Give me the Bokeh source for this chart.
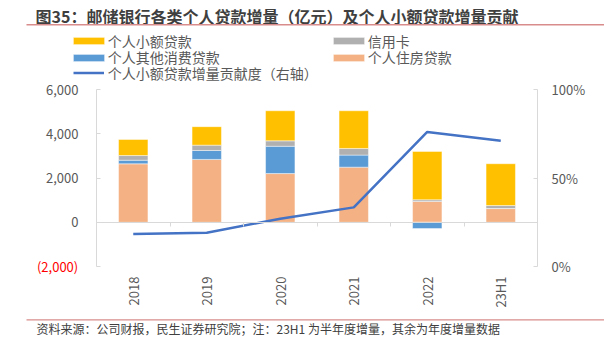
from math import pi
from bokeh.plotting import figure
from bokeh.models import (Range1d, LinearAxis, FixedTicker, Label, Legend, LegendItem,
                          BoxAnnotation, Grid)
from bokeh.embed import file_html
from bokeh.resources import INLINE

# ---------------- data ----------------
categories = ["2018", "2019", "2020", "2021", "2022", "23H1"]
housing = [2640, 2840, 2200, 2490, 940, 620]          # 个人住房贷款
other_consumer = [165, 405, 1235, 545, -285, 0]       # 个人其他消费贷款
credit_card = [210, 240, 245, 300, 75, 135]           # 信用卡
small_loan = [725, 835, 1360, 1705, 2185, 1890]       # 个人小额贷款
small_share = [0.184, 0.191, 0.270, 0.334, 0.760, 0.711]  # 贡献度（右轴）
left_ticks = [-2000, 0, 2000, 4000, 6000]
left_tick_labels = ["(2,000)", "0", "2,000", "4,000", "6,000"]
right_ticks = [0, 0.5, 1.0]
right_tick_labels = ["0%", "50%", "100%"]

title_text = "图35：邮储银行各类个人贷款增量（亿元）及个人小额贷款增量贡献"
source_text = "资料来源：公司财报，民生证券研究院；注：23H1 为半年度增量，其余为年度增量数据"

FONT = "Noto Sans CJK SC"
GRAY_TXT = "#595959"
AXIS_C = "#d9d9d9"

# plot-area geometry on the canvas (px)
W, H = 604, 351
PX0, PX1, PY0, PY1 = 96, 537, 89, 266     # left, right, top, bottom of the axes box

n = len(categories)
xc = [i + 0.5 for i in range(n)]          # category slot centres
bounds = list(range(n + 1))               # category slot boundaries

# ranges chosen so the axes box sits at PX0..PX1 / PY0..PY1 of a full-canvas frame
ux = (PX1 - PX0) / n
x_lo, x_hi = -PX0 / ux, n + (W - PX1) / ux
ymin, ymax = left_ticks[0], left_ticks[-1]
uy = (PY1 - PY0) / (ymax - ymin)
y_lo, y_hi = ymin - (H - PY1) / uy, ymax + PY0 / uy
pmin, pmax = right_ticks[0], right_ticks[-1]
up = (PY1 - PY0) / (pmax - pmin)
p_lo, p_hi = pmin - (H - PY1) / up, pmax + PY0 / up

p = figure(x_range=Range1d(x_lo, x_hi), y_range=Range1d(y_lo, y_hi),
           width=W, height=H, output_backend="svg", toolbar_location=None,
           x_axis_location=None, y_axis_location=None,
           min_border=0, min_border_left=0, min_border_right=0,
           min_border_top=0, min_border_bottom=0,
           background_fill_color="white", border_fill_color="white", outline_line_color=None)
p.extra_y_ranges = {"pct": Range1d(p_lo, p_hi)}
for g in p.select(type=Grid):
    g.visible = False

# ------------- stacked bars (positive / negative stacked separately) -------------
series = [("个人住房贷款", housing, "#F4B183"),
          ("个人其他消费贷款", other_consumer, "#5B9BD5"),
          ("信用卡", credit_card, "#B0B0B0"),
          ("个人小额贷款", small_loan, "#FFC000")]
pos = [0.0] * n
neg = [0.0] * n
rends = {}
for name, vals, col in series:
    bottoms, tops = [], []
    for i, v in enumerate(vals):
        if v >= 0:
            bottoms.append(pos[i]); tops.append(pos[i] + v); pos[i] += v
        else:
            bottoms.append(neg[i] + v); tops.append(neg[i]); neg[i] += v
    rends[name] = p.vbar(x=xc, bottom=bottoms, top=tops, width=0.4,
                         fill_color=col, line_color="white", line_alpha=0.45, line_width=1)

# ------------- line on right axis -------------
line_r = p.line(x=xc, y=small_share, y_range_name="pct",
                line_color="#4472C4", line_width=2.5)

# ------------- axes (fixed in place, clipped with bounds) -------------
lab = dict(major_label_text_font=FONT, major_label_text_font_size="13px",
           major_label_text_color=GRAY_TXT, minor_tick_line_color=None)

overrides = {t: l for t, l in zip(left_ticks, left_tick_labels)}
overrides[left_ticks[0]] = ""
ya = LinearAxis(fixed_location=0, bounds=(ymin, ymax), ticker=FixedTicker(ticks=left_ticks),
                major_label_overrides=overrides, axis_line_color=AXIS_C,
                major_tick_line_color=AXIS_C, major_tick_in=4, major_tick_out=0,
                major_label_standoff=18, **lab)
p.add_layout(ya, "left")

ra = LinearAxis(y_range_name="pct", fixed_location=n, bounds=(pmin, pmax),
                ticker=FixedTicker(ticks=right_ticks),
                major_label_overrides={t: l for t, l in zip(right_ticks, right_tick_labels)},
                axis_line_color=AXIS_C, major_tick_line_color=AXIS_C,
                major_tick_in=4, major_tick_out=0, major_label_standoff=14, **lab)
p.add_layout(ra, "right")

za = LinearAxis(fixed_location=0, bounds=(0, n), ticker=FixedTicker(ticks=bounds),
                major_label_overrides={b: "" for b in bounds},
                axis_line_color=AXIS_C, major_tick_line_color=AXIS_C,
                major_tick_in=0, major_tick_out=4, minor_tick_line_color=None,
                major_label_text_font_size="1px", major_label_standoff=0)
p.add_layout(za, "below")

xa = LinearAxis(fixed_location=ymin, bounds=(0, n), ticker=FixedTicker(ticks=xc),
                major_label_overrides={x: c for x, c in zip(xc, categories)},
                axis_line_color=None, major_tick_line_color=None,
                major_tick_in=0, major_tick_out=0, major_label_orientation=pi / 2,
                major_label_standoff=10, **lab)
p.add_layout(xa, "below")

# red negative tick label
p.add_layout(Label(x=77.7, x_units="screen", y=left_ticks[0], y_units="data",
                   text=left_tick_labels[0], text_align="right", text_baseline="middle",
                   text_font=FONT, text_font_size="13px", text_color="#FF0000"))

# ------------- legends -------------
def add_legend(label, renderer, x0, yc, gw, gh, standoff):
    lg = Legend(items=[LegendItem(label=label, renderers=[renderer])],
                location=(x0, H - yc - 8),
                glyph_width=gw, glyph_height=gh, label_height=16,
                label_standoff=standoff, padding=0, margin=0, spacing=0,
                border_line_color=None, background_fill_alpha=0,
                label_text_font=FONT, label_text_font_size="14px",
                label_text_color=GRAY_TXT)
    p.add_layout(lg, "center")

add_legend("个人小额贷款", rends["个人小额贷款"], 68.8, 42.7, 39, 9, 0)
add_legend("个人其他消费贷款", rends["个人其他消费贷款"], 68.8, 59.0, 39, 9, 0)
add_legend("个人小额贷款增量贡献度（右轴）", line_r, 72.7, 74.7, 31, 9, 4)
add_legend("信用卡", rends["信用卡"], 328.8, 42.5, 39, 9, 0)
add_legend("个人住房贷款", rends["个人住房贷款"], 328.8, 59.0, 39, 9, 0)

# ------------- title, source, red rules -------------
p.add_layout(Label(x=35, y=H - 15.7, x_units="screen", y_units="screen",
                   text=title_text, text_align="left", text_baseline="middle",
                   text_font=FONT, text_font_size="16px", text_font_style="bold",
                   text_color="#3f3f3f"))
p.add_layout(Label(x=36, y=H - 328, x_units="screen", y_units="screen",
                   text=source_text, text_align="left", text_baseline="middle",
                   text_font=FONT, text_font_size="12px", text_color="#404040"))
for yline in (24.3, 319.4):
    p.add_layout(BoxAnnotation(left=26, right=W, top=H - yline + 0.7,
                               bottom=H - yline - 0.7,
                               left_units="screen", right_units="screen",
                               top_units="screen", bottom_units="screen",
                               fill_color="#D98C8C", fill_alpha=1, line_color=None,
                               level="overlay"))

open("out.html", "w").write(file_html(p, INLINE))
